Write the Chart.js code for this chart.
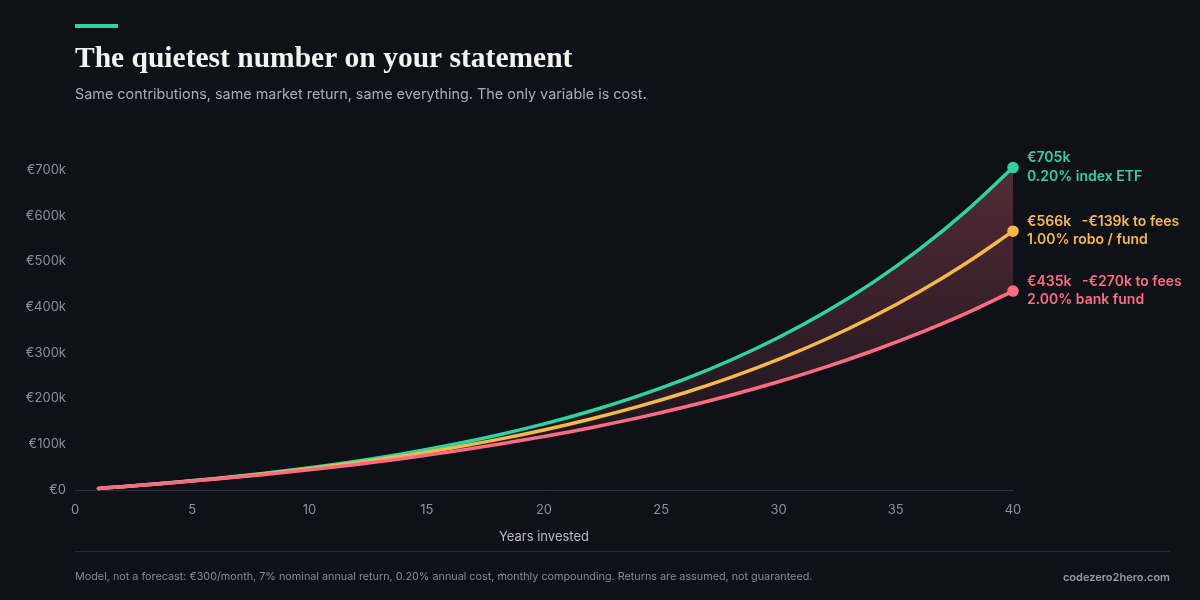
<!DOCTYPE html>
<html>
<head>
<meta charset="utf-8">
<script src="https://cdn.jsdelivr.net/npm/chart.js@4.4.1/dist/chart.umd.min.js"></script>
<style>
  html, body { margin: 0; padding: 0; background: #0e1118; }
  #wrap { width: 1200px; height: 600px; position: relative; }
</style>
</head>
<body>
<div id="wrap"><canvas id="myChart"></canvas></div>
<script>
// years invested and portfolio value (EUR)
const years = [1, 2, 4, 6, 8, 10, 12, 14, 16, 18, 20, 22, 24, 26, 28, 30, 32, 34, 36, 38, 40];
const etfValues = [3520, 7290, 15630, 25190, 36140, 48670, 63030, 79470, 98300, 119860, 144560, 172840, 205230, 242320, 284810, 333460, 389180, 452990, 526070, 609770, 705000];
const roboValues = [3510, 7230, 15380, 24570, 34920, 46590, 59750, 74570, 91290, 110120, 131360, 155290, 182270, 212670, 246950, 285580, 329120, 378210, 433530, 495880, 566000];
const bankValues = [3490, 7160, 15070, 23810, 33470, 44150, 55940, 68970, 83370, 99280, 116860, 136280, 157740, 181460, 207660, 236610, 268600, 303950, 343010, 386160, 435000];
const yTickValues = [0, 100000, 200000, 300000, 400000, 500000, 600000, 700000];
const xTickValues = [0, 5, 10, 15, 20, 25, 30, 35, 40];

const seriesLabels = [
    ['€705k', '0.20% index ETF'],
    ['€566k   -€139k to fees', '1.00% robo / fund'],
    ['€435k   -€270k to fees', '2.00% bank fund']
];

const BG = '#0e1118';
const TEAL = '#2fd3a0';
const GOLD = '#f4b94a';
const ROSE = '#ff6b80';
const SANS = 'Inter, "Liberation Sans", Arial, sans-serif';

const toPoints = (vals) => years.map((y, i) => ({x: y, y: vals[i]}));
const lastDot = (ctx) => ctx.dataIndex === years.length - 1 ? 5 : 0;

Chart.defaults.font.family = SANS;

const gapFill = (context) => {
    const {ctx, chartArea} = context.chart;
    if (!chartArea) return 'rgba(255,107,128,0.15)';
    const g = ctx.createLinearGradient(0, chartArea.top, 0, chartArea.bottom);
    g.addColorStop(0, 'rgba(255,107,128,0.30)');
    g.addColorStop(1, 'rgba(255,107,128,0.02)');
    return g;
};

const frame = {
    id: 'frame',
    beforeDraw(chart) {
        const c = chart.ctx;
        c.save();
        c.fillStyle = BG;
        c.fillRect(0, 0, chart.width, chart.height);
        c.restore();
    },
    afterDraw(chart) {
        const c = chart.ctx;
        const y = chart.scales.y;
        const area = chart.chartArea;
        c.save();
        // accent bar
        c.fillStyle = TEAL;
        c.fillRect(75, 24, 43, 4);
        // title + subtitle
        c.textBaseline = 'alphabetic';
        c.textAlign = 'left';
        c.fillStyle = '#f3f3f0';
        c.font = 'bold 29.5px "Liberation Serif", "DejaVu Serif", serif';
        c.fillText('The quietest number on your statement', 75, 67);
        c.fillStyle = '#a9aeb8';
        c.font = '14.4px ' + SANS;
        c.fillText('Same contributions, same market return, same everything. The only variable is cost.', 75, 99);

        // end labels
        const ends = [etfValues, roboValues, bankValues];
        const cols = [TEAL, GOLD, ROSE];
        c.font = '600 14px ' + SANS;
        c.textBaseline = 'middle';
        ends.forEach((vals, i) => {
            const py = y.getPixelForValue(vals[vals.length - 1]);
            c.fillStyle = cols[i];
            c.fillText(seriesLabels[i][0], area.right + 14, py - 9.5);
            c.fillText(seriesLabels[i][1], area.right + 14, py + 9);
        });

        // footer
        c.strokeStyle = '#252a34';
        c.lineWidth = 1;
        c.beginPath();
        c.moveTo(75, 551.5);
        c.lineTo(1170, 551.5);
        c.stroke();
        c.font = '10.8px ' + SANS;
        c.fillStyle = '#868b96';
        c.fillText('Model, not a forecast: €300/month, 7% nominal annual return, 0.20% annual cost, monthly compounding. Returns are assumed, not guaranteed.', 75, 577);
        c.textAlign = 'right';
        c.font = '600 11px ' + SANS;
        c.fillStyle = '#979ca6';
        c.fillText('codezero2hero.com', 1170, 578);
        c.restore();
    }
};

const ctx = document.getElementById('myChart');
const myChart = new Chart(ctx, {
    type: 'line',
    data: {
        datasets: [
            {
                label: '0.20% index ETF',
                data: toPoints(etfValues),
                borderColor: TEAL,
                pointBackgroundColor: TEAL,
                backgroundColor: gapFill,
                fill: 2,
                order: 3
            },
            {
                label: '1.00% robo / fund',
                data: toPoints(roboValues),
                borderColor: GOLD,
                pointBackgroundColor: GOLD,
                fill: false,
                order: 2
            },
            {
                label: '2.00% bank fund',
                data: toPoints(bankValues),
                borderColor: ROSE,
                pointBackgroundColor: ROSE,
                fill: false,
                order: 1
            }
        ]
    },
    options: {
        responsive: true,
        maintainAspectRatio: false,
        animation: false,
        clip: false,
        layout: { padding: { top: 147, right: 187, bottom: 50, left: 0 } },
        elements: {
            line: { borderWidth: 3.5, cubicInterpolationMode: 'monotone', borderCapStyle: 'round' },
            point: {
                radius: lastDot,
                hoverRadius: lastDot,
                borderColor: BG,
                borderWidth: 1.5
            }
        },
        plugins: {
            legend: { display: false },
            tooltip: { enabled: false }
        },
        scales: {
            x: {
                type: 'linear',
                min: 0,
                max: 40,
                afterBuildTicks: (s) => { s.ticks = xTickValues.map(v => ({value: v})); },
                afterFit: (s) => { s.height = 60; },
                grid: { display: false, drawTicks: false },
                border: { display: true, color: '#2a2f3a', width: 1 },
                ticks: { color: '#8b909a', font: { size: 13 }, padding: 12 },
                title: {
                    display: true,
                    text: 'Years invested',
                    color: '#b8bcc5',
                    font: { size: 13 },
                    padding: { top: 0, bottom: 5 }
                }
            },
            y: {
                min: 0,
                max: 750000,
                afterBuildTicks: (s) => { s.ticks = yTickValues.map(v => ({value: v})); },
                afterFit: (s) => { s.width = 75; },
                grid: { display: false, drawTicks: false },
                border: { display: false },
                ticks: {
                    color: '#8b909a',
                    font: { size: 13 },
                    padding: 9,
                    callback: (v) => v === 0 ? '€0' : '€' + (v / 1000) + 'k'
                }
            }
        }
    },
    plugins: [frame]
});
</script>
</body>
</html>
